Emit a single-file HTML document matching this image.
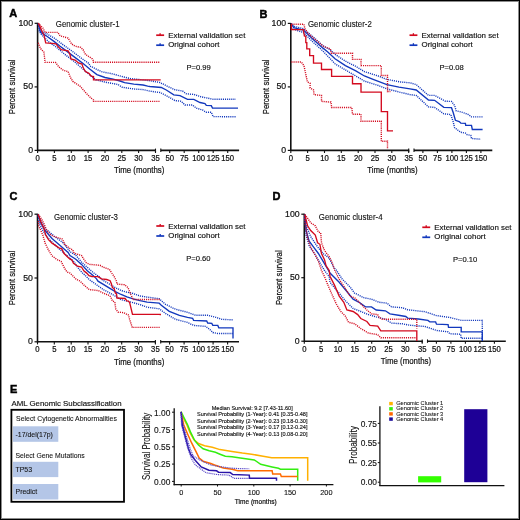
<!DOCTYPE html>
<html><head><meta charset="utf-8"><style>
html,body{margin:0;padding:0;background:#fff;font-family:"Liberation Sans",sans-serif;}
body{width:520px;height:520px;overflow:hidden;position:relative;}
svg{display:block;position:absolute;left:0;top:0;will-change:transform;}
.frame{position:absolute;left:0;top:0;width:520px;height:520px;box-sizing:border-box;border-style:solid;border-color:#000;border-width:1px;box-shadow:inset 0 0 0 1px #8c8c8c;}
</style></head><body>
<svg width="520" height="520" viewBox="0 0 520 520" style="font-family:&quot;Liberation Sans&quot;,sans-serif">
<rect x="0" y="0" width="520" height="520" fill="#fff"/>
<text x="9.3" y="16.9" font-size="11" text-anchor="start" font-weight="bold" fill="#000" stroke="#000" stroke-width="0.45">A</text>
<line x1="37.6" y1="22.8" x2="37.6" y2="151.1" stroke="#111" stroke-width="1.6"/>
<line x1="34.6" y1="23.3" x2="37.6" y2="23.3" stroke="#111" stroke-width="1.2"/>
<text transform="translate(33.0,25.8) scale(0.95,1)" font-size="9.2" text-anchor="end" font-weight="normal" fill="#111" stroke="#111" stroke-width="0.22">100</text>
<line x1="34.6" y1="86.9" x2="37.6" y2="86.9" stroke="#111" stroke-width="1.2"/>
<text transform="translate(33.0,89.4) scale(0.95,1)" font-size="9.2" text-anchor="end" font-weight="normal" fill="#111" stroke="#111" stroke-width="0.22">50</text>
<line x1="34.6" y1="150.4" x2="37.6" y2="150.4" stroke="#111" stroke-width="1.2"/>
<text transform="translate(33.0,152.9) scale(0.95,1)" font-size="9.2" text-anchor="end" font-weight="normal" fill="#111" stroke="#111" stroke-width="0.22">0</text>
<line x1="37.6" y1="150.4" x2="156.0" y2="150.4" stroke="#111" stroke-width="1.6"/>
<line x1="155.5" y1="148.6" x2="155.5" y2="152.0" stroke="#111" stroke-width="1.1"/>
<line x1="37.6" y1="150.4" x2="37.6" y2="153.0" stroke="#111" stroke-width="1.1"/>
<text transform="translate(37.6,160.9) scale(0.94,1)" font-size="8.2" text-anchor="middle" font-weight="normal" fill="#111" stroke="#111" stroke-width="0.22">0</text>
<line x1="54.4" y1="150.4" x2="54.4" y2="153.0" stroke="#111" stroke-width="1.1"/>
<text transform="translate(54.4,160.9) scale(0.94,1)" font-size="8.2" text-anchor="middle" font-weight="normal" fill="#111" stroke="#111" stroke-width="0.22">5</text>
<line x1="71.3" y1="150.4" x2="71.3" y2="153.0" stroke="#111" stroke-width="1.1"/>
<text transform="translate(71.3,160.9) scale(0.94,1)" font-size="8.2" text-anchor="middle" font-weight="normal" fill="#111" stroke="#111" stroke-width="0.22">10</text>
<line x1="88.1" y1="150.4" x2="88.1" y2="153.0" stroke="#111" stroke-width="1.1"/>
<text transform="translate(88.1,160.9) scale(0.94,1)" font-size="8.2" text-anchor="middle" font-weight="normal" fill="#111" stroke="#111" stroke-width="0.22">15</text>
<line x1="105.0" y1="150.4" x2="105.0" y2="153.0" stroke="#111" stroke-width="1.1"/>
<text transform="translate(105.0,160.9) scale(0.94,1)" font-size="8.2" text-anchor="middle" font-weight="normal" fill="#111" stroke="#111" stroke-width="0.22">20</text>
<line x1="121.8" y1="150.4" x2="121.8" y2="153.0" stroke="#111" stroke-width="1.1"/>
<text transform="translate(121.8,160.9) scale(0.94,1)" font-size="8.2" text-anchor="middle" font-weight="normal" fill="#111" stroke="#111" stroke-width="0.22">25</text>
<line x1="138.6" y1="150.4" x2="138.6" y2="153.0" stroke="#111" stroke-width="1.1"/>
<text transform="translate(138.6,160.9) scale(0.94,1)" font-size="8.2" text-anchor="middle" font-weight="normal" fill="#111" stroke="#111" stroke-width="0.22">30</text>
<line x1="155.5" y1="150.4" x2="155.5" y2="153.0" stroke="#111" stroke-width="1.1"/>
<text transform="translate(155.5,160.9) scale(0.94,1)" font-size="8.2" text-anchor="middle" font-weight="normal" fill="#111" stroke="#111" stroke-width="0.22">35</text>
<line x1="160.8" y1="148.6" x2="160.8" y2="152.0" stroke="#111" stroke-width="1.1"/>
<line x1="160.8" y1="150.4" x2="239.1" y2="150.4" stroke="#111" stroke-width="1.6"/>
<line x1="169.7" y1="150.4" x2="169.7" y2="153.0" stroke="#111" stroke-width="1.1"/>
<text transform="translate(169.7,160.9) scale(0.94,1)" font-size="8.2" text-anchor="middle" font-weight="normal" fill="#111" stroke="#111" stroke-width="0.22">50</text>
<line x1="184.2" y1="150.4" x2="184.2" y2="153.0" stroke="#111" stroke-width="1.1"/>
<text transform="translate(184.2,160.9) scale(0.94,1)" font-size="8.2" text-anchor="middle" font-weight="normal" fill="#111" stroke="#111" stroke-width="0.22">75</text>
<line x1="198.7" y1="150.4" x2="198.7" y2="153.0" stroke="#111" stroke-width="1.1"/>
<text transform="translate(198.7,160.9) scale(0.94,1)" font-size="8.2" text-anchor="middle" font-weight="normal" fill="#111" stroke="#111" stroke-width="0.22">100</text>
<line x1="213.2" y1="150.4" x2="213.2" y2="153.0" stroke="#111" stroke-width="1.1"/>
<text transform="translate(213.2,160.9) scale(0.94,1)" font-size="8.2" text-anchor="middle" font-weight="normal" fill="#111" stroke="#111" stroke-width="0.22">125</text>
<line x1="227.7" y1="150.4" x2="227.7" y2="153.0" stroke="#111" stroke-width="1.1"/>
<text transform="translate(227.7,160.9) scale(0.94,1)" font-size="8.2" text-anchor="middle" font-weight="normal" fill="#111" stroke="#111" stroke-width="0.22">150</text>
<text transform="translate(114.0,173.4) scale(0.82,1)" font-size="9.6" text-anchor="start" font-weight="normal" fill="#111" stroke="#111" stroke-width="0.22">Time (months)</text>
<text transform="translate(15.4,86.9) rotate(-90) scale(0.8,1)" font-size="9.6" text-anchor="middle" fill="#111" stroke="#111" stroke-width="0.22">Percent survival</text>
<text transform="translate(55.8,27.4) scale(0.915,1)" font-size="8.6" text-anchor="start" font-weight="normal" fill="#111" stroke="#111" stroke-width="0.12">Genomic cluster-1</text>
<line x1="156.2" y1="35.2" x2="164.1" y2="35.2" stroke="#d30a1e" stroke-width="1.7"/>
<line x1="160.1" y1="33.2" x2="160.1" y2="35.2" stroke="#d30a1e" stroke-width="1.3"/>
<text x="168.2" y="37.9" font-size="7.9" text-anchor="start" font-weight="normal" fill="#111" stroke="#111" stroke-width="0.15">External validation set</text>
<line x1="156.2" y1="45.2" x2="164.1" y2="45.2" stroke="#1238bd" stroke-width="1.7"/>
<line x1="160.1" y1="43.2" x2="160.1" y2="45.2" stroke="#1238bd" stroke-width="1.3"/>
<text x="168.2" y="47.2" font-size="7.9" text-anchor="start" font-weight="normal" fill="#111" stroke="#111" stroke-width="0.15">Original cohort</text>
<text x="186.5" y="70.4" font-size="7.6" text-anchor="start" font-weight="normal" fill="#111" stroke="#111" stroke-width="0.15">P=0.99</text>
<polyline points="38.5,23.6 40.5,32.4 46.2,35.8 54.3,41.6 60.1,46.2 67.0,51.4 73.9,56.6 83.1,63.5 90.0,69.3 96.9,74.6 105.0,77.5 113.1,79.2 120.0,81.0 124.6,82.7 133.8,84.1 143.1,85.0 147.7,86.1 150.0,86.5 161.3,87.5 166.3,90.0 173.8,94.8 180.0,95.6 187.5,99.4 193.8,99.4 200.0,102.5 205.0,103.5 206.3,105.3 211.3,105.6 212.5,108.1 238.0,108.1" fill="none" stroke="#1238bd" stroke-width="1.35" stroke-linejoin="miter" stroke-linecap="butt"/>
<polyline points="38.3,23.4 40.5,31.2 46.2,33.5 54.3,38.1 63.5,45.1 71.6,50.8 80.8,57.8 88.9,63.5 90.0,66.0 101.5,71.7 113.1,74.0 123.4,76.9 130.4,78.6 141.9,79.8 150.0,80.8 160.0,82.5 167.5,86.3 175.0,89.8 182.5,91.0 186.3,93.8 193.8,94.4 201.3,96.9 207.5,98.1 213.1,99.3 235.8,99.3" fill="none" stroke="#1238bd" stroke-width="1.4" stroke-dasharray="1.1 1.0" stroke-linejoin="miter" stroke-linecap="butt"/>
<polyline points="38.3,24.0 39.3,31.2 41.6,34.7 48.5,41.6 56.6,47.4 64.7,54.3 73.9,61.2 83.1,69.3 90.0,75.1 95.8,79.8 105.0,82.1 117.7,84.4 122.3,87.3 133.8,89.0 143.1,89.6 150.0,91.2 160.0,92.5 167.5,96.3 175.0,100.6 181.3,101.3 185.0,105.0 192.5,105.0 196.3,108.1 202.5,110.0 206.3,112.3 211.3,112.3 213.1,116.6 235.8,116.8" fill="none" stroke="#1238bd" stroke-width="1.4" stroke-dasharray="1.1 1.0" stroke-linejoin="miter" stroke-linecap="butt"/>
<polyline points="38.6,23.6 41.0,28.9 42.8,33.0 43.9,34.7 45.7,42.8 52.0,43.3 56.0,43.9 58.3,46.8 61.2,49.7 68.1,50.8 69.9,54.3 71.0,58.9 75.1,60.1 78.5,62.9 82.0,64.1 83.1,67.6 85.4,71.6 88.9,73.3 91.2,76.2 93.5,76.5 93.5,79.8 160.7,79.8" fill="none" stroke="#d30a1e" stroke-width="1.35" stroke-linejoin="miter" stroke-linecap="butt"/>
<polyline points="38.2,23.2 42.8,27.8 45.1,32.4 57.8,32.4 60.1,35.8 68.1,38.1 71.6,43.9 75.1,46.2 80.8,47.4 83.1,49.7 85.4,54.3 88.9,56.6 92.4,58.9 93.5,61.0 93.5,62.2 160.0,62.2" fill="none" stroke="#d30a1e" stroke-width="1.4" stroke-dasharray="1.1 1.0" stroke-linejoin="miter" stroke-linecap="butt"/>
<polyline points="38.2,42.8 40.5,48.5 43.9,52.0 45.1,62.4 55.5,62.4 58.9,67.0 63.5,70.4 68.1,71.6 70.4,77.4 72.8,81.4 80.2,86.3 86.0,93.0 91.0,98.0 93.5,100.0 93.5,101.4 160.0,101.4" fill="none" stroke="#d30a1e" stroke-width="1.4" stroke-dasharray="1.1 1.0" stroke-linejoin="miter" stroke-linecap="butt"/>
<text x="259.4" y="17.9" font-size="11" text-anchor="start" font-weight="bold" fill="#000" stroke="#000" stroke-width="0.45">B</text>
<line x1="290.8" y1="22.9" x2="290.8" y2="151.1" stroke="#111" stroke-width="1.6"/>
<line x1="287.8" y1="23.4" x2="290.8" y2="23.4" stroke="#111" stroke-width="1.2"/>
<text transform="translate(286.2,25.9) scale(0.95,1)" font-size="9.2" text-anchor="end" font-weight="normal" fill="#111" stroke="#111" stroke-width="0.22">100</text>
<line x1="287.8" y1="86.9" x2="290.8" y2="86.9" stroke="#111" stroke-width="1.2"/>
<text transform="translate(286.2,89.4) scale(0.95,1)" font-size="9.2" text-anchor="end" font-weight="normal" fill="#111" stroke="#111" stroke-width="0.22">50</text>
<line x1="287.8" y1="150.4" x2="290.8" y2="150.4" stroke="#111" stroke-width="1.2"/>
<text transform="translate(286.2,152.9) scale(0.95,1)" font-size="9.2" text-anchor="end" font-weight="normal" fill="#111" stroke="#111" stroke-width="0.22">0</text>
<line x1="290.8" y1="150.4" x2="409.2" y2="150.4" stroke="#111" stroke-width="1.6"/>
<line x1="408.7" y1="148.6" x2="408.7" y2="152.0" stroke="#111" stroke-width="1.1"/>
<line x1="290.8" y1="150.4" x2="290.8" y2="153.0" stroke="#111" stroke-width="1.1"/>
<text transform="translate(290.8,160.9) scale(0.94,1)" font-size="8.2" text-anchor="middle" font-weight="normal" fill="#111" stroke="#111" stroke-width="0.22">0</text>
<line x1="307.6" y1="150.4" x2="307.6" y2="153.0" stroke="#111" stroke-width="1.1"/>
<text transform="translate(307.6,160.9) scale(0.94,1)" font-size="8.2" text-anchor="middle" font-weight="normal" fill="#111" stroke="#111" stroke-width="0.22">5</text>
<line x1="324.5" y1="150.4" x2="324.5" y2="153.0" stroke="#111" stroke-width="1.1"/>
<text transform="translate(324.5,160.9) scale(0.94,1)" font-size="8.2" text-anchor="middle" font-weight="normal" fill="#111" stroke="#111" stroke-width="0.22">10</text>
<line x1="341.3" y1="150.4" x2="341.3" y2="153.0" stroke="#111" stroke-width="1.1"/>
<text transform="translate(341.3,160.9) scale(0.94,1)" font-size="8.2" text-anchor="middle" font-weight="normal" fill="#111" stroke="#111" stroke-width="0.22">15</text>
<line x1="358.2" y1="150.4" x2="358.2" y2="153.0" stroke="#111" stroke-width="1.1"/>
<text transform="translate(358.2,160.9) scale(0.94,1)" font-size="8.2" text-anchor="middle" font-weight="normal" fill="#111" stroke="#111" stroke-width="0.22">20</text>
<line x1="375.0" y1="150.4" x2="375.0" y2="153.0" stroke="#111" stroke-width="1.1"/>
<text transform="translate(375.0,160.9) scale(0.94,1)" font-size="8.2" text-anchor="middle" font-weight="normal" fill="#111" stroke="#111" stroke-width="0.22">25</text>
<line x1="391.8" y1="150.4" x2="391.8" y2="153.0" stroke="#111" stroke-width="1.1"/>
<text transform="translate(391.8,160.9) scale(0.94,1)" font-size="8.2" text-anchor="middle" font-weight="normal" fill="#111" stroke="#111" stroke-width="0.22">30</text>
<line x1="408.7" y1="150.4" x2="408.7" y2="153.0" stroke="#111" stroke-width="1.1"/>
<text transform="translate(408.7,160.9) scale(0.94,1)" font-size="8.2" text-anchor="middle" font-weight="normal" fill="#111" stroke="#111" stroke-width="0.22">35</text>
<line x1="414.0" y1="148.6" x2="414.0" y2="152.0" stroke="#111" stroke-width="1.1"/>
<line x1="414.0" y1="150.4" x2="492.3" y2="150.4" stroke="#111" stroke-width="1.6"/>
<line x1="422.9" y1="150.4" x2="422.9" y2="153.0" stroke="#111" stroke-width="1.1"/>
<text transform="translate(422.9,160.9) scale(0.94,1)" font-size="8.2" text-anchor="middle" font-weight="normal" fill="#111" stroke="#111" stroke-width="0.22">50</text>
<line x1="437.4" y1="150.4" x2="437.4" y2="153.0" stroke="#111" stroke-width="1.1"/>
<text transform="translate(437.4,160.9) scale(0.94,1)" font-size="8.2" text-anchor="middle" font-weight="normal" fill="#111" stroke="#111" stroke-width="0.22">75</text>
<line x1="451.9" y1="150.4" x2="451.9" y2="153.0" stroke="#111" stroke-width="1.1"/>
<text transform="translate(451.9,160.9) scale(0.94,1)" font-size="8.2" text-anchor="middle" font-weight="normal" fill="#111" stroke="#111" stroke-width="0.22">100</text>
<line x1="466.4" y1="150.4" x2="466.4" y2="153.0" stroke="#111" stroke-width="1.1"/>
<text transform="translate(466.4,160.9) scale(0.94,1)" font-size="8.2" text-anchor="middle" font-weight="normal" fill="#111" stroke="#111" stroke-width="0.22">125</text>
<line x1="480.9" y1="150.4" x2="480.9" y2="153.0" stroke="#111" stroke-width="1.1"/>
<text transform="translate(480.9,160.9) scale(0.94,1)" font-size="8.2" text-anchor="middle" font-weight="normal" fill="#111" stroke="#111" stroke-width="0.22">150</text>
<text transform="translate(367.2,173.4) scale(0.82,1)" font-size="9.6" text-anchor="start" font-weight="normal" fill="#111" stroke="#111" stroke-width="0.22">Time (months)</text>
<text transform="translate(268.6,86.9) rotate(-90) scale(0.8,1)" font-size="9.6" text-anchor="middle" fill="#111" stroke="#111" stroke-width="0.22">Percent survival</text>
<text transform="translate(308.0,26.9) scale(0.915,1)" font-size="8.6" text-anchor="start" font-weight="normal" fill="#111" stroke="#111" stroke-width="0.12">Genomic cluster-2</text>
<line x1="409.5" y1="35.2" x2="417.4" y2="35.2" stroke="#d30a1e" stroke-width="1.7"/>
<line x1="413.4" y1="33.2" x2="413.4" y2="35.2" stroke="#d30a1e" stroke-width="1.3"/>
<text x="421.5" y="37.9" font-size="7.9" text-anchor="start" font-weight="normal" fill="#111" stroke="#111" stroke-width="0.15">External validation set</text>
<line x1="409.5" y1="45.2" x2="417.4" y2="45.2" stroke="#1238bd" stroke-width="1.7"/>
<line x1="413.4" y1="43.2" x2="413.4" y2="45.2" stroke="#1238bd" stroke-width="1.3"/>
<text x="421.5" y="47.2" font-size="7.9" text-anchor="start" font-weight="normal" fill="#111" stroke="#111" stroke-width="0.15">Original cohort</text>
<text x="439.5" y="70.4" font-size="7.6" text-anchor="start" font-weight="normal" fill="#111" stroke="#111" stroke-width="0.15">P=0.08</text>
<polyline points="291.2,23.6 293.8,27.7 303.4,30.1 313.0,39.2 322.7,47.9 327.5,51.7 335.0,58.7 345.4,65.6 355.8,70.8 364.4,76.0 373.1,79.4 386.9,84.6 399.0,87.2 410.0,88.9 416.2,90.0 428.5,100.0 434.6,100.3 443.8,107.4 451.5,107.7 453.1,112.3 455.4,120.3 459.2,121.5 460.8,123.1 465.4,123.4 465.7,125.4 471.5,125.4 472.3,129.5 482.6,129.5" fill="none" stroke="#1238bd" stroke-width="1.35" stroke-linejoin="miter" stroke-linecap="butt"/>
<polyline points="291.2,23.4 293.8,26.3 303.4,28.7 313.0,36.8 322.7,45.5 330.3,49.8 335.0,54.3 345.4,61.2 355.8,66.4 364.4,71.6 378.3,76.0 386.9,79.4 400.7,82.0 410.0,82.8 416.2,84.6 428.5,95.4 434.6,95.4 445.4,101.2 451.5,101.5 454.6,105.4 456.2,110.8 462.3,112.3 468.5,114.6 471.5,116.9 482.6,116.9" fill="none" stroke="#1238bd" stroke-width="1.4" stroke-dasharray="1.1 1.0" stroke-linejoin="miter" stroke-linecap="butt"/>
<polyline points="291.2,26.0 291.9,28.7 303.4,32.5 313.0,42.1 322.7,50.8 335.0,63.8 345.4,69.9 355.8,76.0 364.4,81.1 378.3,85.5 386.9,88.9 400.7,92.4 410.0,94.6 416.2,95.4 428.5,106.9 434.6,107.4 443.8,113.8 450.8,114.6 453.1,121.5 454.6,127.7 460.8,132.3 465.4,133.1 466.9,134.6 470.8,135.4 471.5,138.5 480.8,139.2" fill="none" stroke="#1238bd" stroke-width="1.4" stroke-dasharray="1.1 1.0" stroke-linejoin="miter" stroke-linecap="butt"/>
<polyline points="291.4,23.8 291.4,29.6 303.4,29.6 304.4,35.9 305.8,36.3 305.8,42.6 306.8,42.6 306.8,48.8 309.7,48.8 309.7,55.6 313.5,55.6 313.5,63.1 321.5,63.1 321.5,69.5 331.6,69.5 331.6,76.3 352.5,76.3 352.5,83.7 361.0,83.7 361.0,92.1 381.3,92.1 381.3,111.6 387.5,111.6 387.5,130.8 393.0,130.8" fill="none" stroke="#d30a1e" stroke-width="1.35" stroke-linejoin="miter" stroke-linecap="butt"/>
<polyline points="291.4,24.2 303.9,24.3 304.9,28.7 308.2,33.5 313.0,37.8 317.8,41.6 322.7,46.0 327.5,47.9 330.3,48.8 331.3,53.2 352.5,53.2 352.5,59.4 361.0,59.4 361.0,65.6 381.3,65.6 381.3,75.5 387.5,75.5 387.5,91.5 390.4,91.5" fill="none" stroke="#d30a1e" stroke-width="1.4" stroke-dasharray="1.1 1.0" stroke-linejoin="miter" stroke-linecap="butt"/>
<polyline points="291.4,62.0 301.3,62.0 304.0,65.8 307.4,81.9 310.1,83.3 310.1,88.0 313.5,90.0 314.1,94.7 321.5,95.4 321.5,101.4 331.0,102.1 331.6,107.5 351.8,107.5 352.5,114.2 361.0,114.2 361.0,121.3 381.3,121.3 381.3,141.3 387.5,141.3 387.5,149.0" fill="none" stroke="#d30a1e" stroke-width="1.4" stroke-dasharray="1.1 1.0" stroke-linejoin="miter" stroke-linecap="butt"/>
<text x="9.6" y="200.3" font-size="11" text-anchor="start" font-weight="bold" fill="#000" stroke="#000" stroke-width="0.45">C</text>
<line x1="37.5" y1="213.7" x2="37.5" y2="342.5" stroke="#111" stroke-width="1.6"/>
<line x1="34.5" y1="214.2" x2="37.5" y2="214.2" stroke="#111" stroke-width="1.2"/>
<text transform="translate(32.9,216.7) scale(0.95,1)" font-size="9.2" text-anchor="end" font-weight="normal" fill="#111" stroke="#111" stroke-width="0.22">100</text>
<line x1="34.5" y1="278.0" x2="37.5" y2="278.0" stroke="#111" stroke-width="1.2"/>
<text transform="translate(32.9,280.5) scale(0.95,1)" font-size="9.2" text-anchor="end" font-weight="normal" fill="#111" stroke="#111" stroke-width="0.22">50</text>
<line x1="34.5" y1="341.8" x2="37.5" y2="341.8" stroke="#111" stroke-width="1.2"/>
<text transform="translate(32.9,344.3) scale(0.95,1)" font-size="9.2" text-anchor="end" font-weight="normal" fill="#111" stroke="#111" stroke-width="0.22">0</text>
<line x1="37.5" y1="341.8" x2="155.9" y2="341.8" stroke="#111" stroke-width="1.6"/>
<line x1="155.4" y1="340.0" x2="155.4" y2="343.40000000000003" stroke="#111" stroke-width="1.1"/>
<line x1="37.5" y1="341.8" x2="37.5" y2="344.40000000000003" stroke="#111" stroke-width="1.1"/>
<text transform="translate(37.5,352.3) scale(0.94,1)" font-size="8.2" text-anchor="middle" font-weight="normal" fill="#111" stroke="#111" stroke-width="0.22">0</text>
<line x1="54.3" y1="341.8" x2="54.3" y2="344.40000000000003" stroke="#111" stroke-width="1.1"/>
<text transform="translate(54.3,352.3) scale(0.94,1)" font-size="8.2" text-anchor="middle" font-weight="normal" fill="#111" stroke="#111" stroke-width="0.22">5</text>
<line x1="71.2" y1="341.8" x2="71.2" y2="344.40000000000003" stroke="#111" stroke-width="1.1"/>
<text transform="translate(71.2,352.3) scale(0.94,1)" font-size="8.2" text-anchor="middle" font-weight="normal" fill="#111" stroke="#111" stroke-width="0.22">10</text>
<line x1="88.0" y1="341.8" x2="88.0" y2="344.40000000000003" stroke="#111" stroke-width="1.1"/>
<text transform="translate(88.0,352.3) scale(0.94,1)" font-size="8.2" text-anchor="middle" font-weight="normal" fill="#111" stroke="#111" stroke-width="0.22">15</text>
<line x1="104.9" y1="341.8" x2="104.9" y2="344.40000000000003" stroke="#111" stroke-width="1.1"/>
<text transform="translate(104.9,352.3) scale(0.94,1)" font-size="8.2" text-anchor="middle" font-weight="normal" fill="#111" stroke="#111" stroke-width="0.22">20</text>
<line x1="121.7" y1="341.8" x2="121.7" y2="344.40000000000003" stroke="#111" stroke-width="1.1"/>
<text transform="translate(121.7,352.3) scale(0.94,1)" font-size="8.2" text-anchor="middle" font-weight="normal" fill="#111" stroke="#111" stroke-width="0.22">25</text>
<line x1="138.5" y1="341.8" x2="138.5" y2="344.40000000000003" stroke="#111" stroke-width="1.1"/>
<text transform="translate(138.5,352.3) scale(0.94,1)" font-size="8.2" text-anchor="middle" font-weight="normal" fill="#111" stroke="#111" stroke-width="0.22">30</text>
<line x1="155.4" y1="341.8" x2="155.4" y2="344.40000000000003" stroke="#111" stroke-width="1.1"/>
<text transform="translate(155.4,352.3) scale(0.94,1)" font-size="8.2" text-anchor="middle" font-weight="normal" fill="#111" stroke="#111" stroke-width="0.22">35</text>
<line x1="160.7" y1="340.0" x2="160.7" y2="343.40000000000003" stroke="#111" stroke-width="1.1"/>
<line x1="160.7" y1="341.8" x2="239.0" y2="341.8" stroke="#111" stroke-width="1.6"/>
<line x1="169.6" y1="341.8" x2="169.6" y2="344.40000000000003" stroke="#111" stroke-width="1.1"/>
<text transform="translate(169.6,352.3) scale(0.94,1)" font-size="8.2" text-anchor="middle" font-weight="normal" fill="#111" stroke="#111" stroke-width="0.22">50</text>
<line x1="184.1" y1="341.8" x2="184.1" y2="344.40000000000003" stroke="#111" stroke-width="1.1"/>
<text transform="translate(184.1,352.3) scale(0.94,1)" font-size="8.2" text-anchor="middle" font-weight="normal" fill="#111" stroke="#111" stroke-width="0.22">75</text>
<line x1="198.6" y1="341.8" x2="198.6" y2="344.40000000000003" stroke="#111" stroke-width="1.1"/>
<text transform="translate(198.6,352.3) scale(0.94,1)" font-size="8.2" text-anchor="middle" font-weight="normal" fill="#111" stroke="#111" stroke-width="0.22">100</text>
<line x1="213.1" y1="341.8" x2="213.1" y2="344.40000000000003" stroke="#111" stroke-width="1.1"/>
<text transform="translate(213.1,352.3) scale(0.94,1)" font-size="8.2" text-anchor="middle" font-weight="normal" fill="#111" stroke="#111" stroke-width="0.22">125</text>
<line x1="227.6" y1="341.8" x2="227.6" y2="344.40000000000003" stroke="#111" stroke-width="1.1"/>
<text transform="translate(227.6,352.3) scale(0.94,1)" font-size="8.2" text-anchor="middle" font-weight="normal" fill="#111" stroke="#111" stroke-width="0.22">150</text>
<text transform="translate(113.9,364.8) scale(0.82,1)" font-size="9.6" text-anchor="start" font-weight="normal" fill="#111" stroke="#111" stroke-width="0.22">Time (months)</text>
<text transform="translate(15.3,278.0) rotate(-90) scale(0.8,1)" font-size="9.6" text-anchor="middle" fill="#111" stroke="#111" stroke-width="0.22">Percent survival</text>
<text transform="translate(54.1,219.5) scale(0.915,1)" font-size="8.6" text-anchor="start" font-weight="normal" fill="#111" stroke="#111" stroke-width="0.12">Genomic cluster-3</text>
<line x1="156.3" y1="226" x2="164.20000000000002" y2="226" stroke="#d30a1e" stroke-width="1.7"/>
<line x1="160.20000000000002" y1="224.0" x2="160.20000000000002" y2="226" stroke="#d30a1e" stroke-width="1.3"/>
<text x="168.3" y="228.7" font-size="7.9" text-anchor="start" font-weight="normal" fill="#111" stroke="#111" stroke-width="0.15">External validation set</text>
<line x1="156.3" y1="236" x2="164.20000000000002" y2="236" stroke="#1238bd" stroke-width="1.7"/>
<line x1="160.20000000000002" y1="234.0" x2="160.20000000000002" y2="236" stroke="#1238bd" stroke-width="1.3"/>
<text x="168.3" y="238.0" font-size="7.9" text-anchor="start" font-weight="normal" fill="#111" stroke="#111" stroke-width="0.15">Original cohort</text>
<text x="186.2" y="261.4" font-size="7.6" text-anchor="start" font-weight="normal" fill="#111" stroke="#111" stroke-width="0.15">P=0.60</text>
<polyline points="38.2,214.5 40.5,222.4 45.1,230.5 52.0,238.5 60.1,245.4 68.1,252.4 70.0,255.5 75.8,259.2 81.5,264.4 87.3,270.8 93.1,275.4 96.5,278.9 98.0,281.2 103.8,284.7 109.5,288.2 115.3,291.6 121.1,294.5 126.9,296.8 133.1,298.8 140.0,300.6 147.1,302.2 159.2,303.2 161.3,305.2 169.3,311.3 179.4,315.3 187.5,317.3 192.6,318.3 193.6,320.4 206.7,321.0 207.7,323.0 211.8,323.4 212.8,325.4 217.8,325.4 218.8,327.8 233.0,327.8 233.0,338.5" fill="none" stroke="#1238bd" stroke-width="1.35" stroke-linejoin="miter" stroke-linecap="butt"/>
<polyline points="38.2,214.3 40.5,220.1 46.2,229.3 54.3,236.2 63.5,243.1 70.0,251.7 75.8,255.2 81.5,262.1 87.3,267.3 93.1,272.5 98.9,276.5 102.6,280.1 109.5,284.1 115.3,287.6 121.1,290.5 126.9,292.2 131.9,293.1 140.0,296.0 147.1,297.1 159.2,298.7 165.3,304.2 175.4,309.2 187.5,312.3 195.6,315.3 207.7,315.3 215.8,317.3 221.9,319.3 233.0,319.9" fill="none" stroke="#1238bd" stroke-width="1.4" stroke-dasharray="1.1 1.0" stroke-linejoin="miter" stroke-linecap="butt"/>
<polyline points="38.2,216.0 39.3,223.5 42.8,230.5 48.5,238.5 56.6,246.6 65.8,254.7 73.9,261.6 77.5,267.3 81.5,271.9 86.2,276.5 89.0,279.4 98.0,285.8 103.8,289.9 109.5,292.8 115.3,296.2 121.1,299.7 131.9,302.3 140.0,304.6 147.1,307.2 159.2,308.8 165.3,313.3 175.4,319.3 187.5,322.4 193.6,325.4 205.7,326.4 209.7,329.4 212.8,332.5 217.8,333.5 233.0,333.5" fill="none" stroke="#1238bd" stroke-width="1.4" stroke-dasharray="1.1 1.0" stroke-linejoin="miter" stroke-linecap="butt"/>
<polyline points="38.2,214.6 41.6,223.5 43.9,228.1 45.7,235.1 48.5,239.7 52.0,243.1 55.5,245.4 58.9,247.8 61.8,248.9 64.1,253.5 67.6,257.0 70.0,259.2 71.7,259.8 73.5,263.3 77.5,266.2 81.5,267.0 83.8,270.8 86.7,273.1 89.0,275.7 91.9,276.5 98.0,276.6 101.5,278.9 106.7,279.5 110.1,280.7 111.3,283.5 112.4,287.6 114.2,288.7 115.3,292.8 116.5,293.9 117.0,298.0 125.1,298.5 126.9,300.9 128.4,301.1 129.6,302.3 132.5,314.3 160.3,314.3 160.3,315.3" fill="none" stroke="#d30a1e" stroke-width="1.35" stroke-linejoin="miter" stroke-linecap="butt"/>
<polyline points="38.2,214.5 41.6,218.9 43.9,223.5 46.2,229.3 49.7,233.9 53.1,236.2 62.4,239.1 64.7,244.3 70.4,248.9 72.9,250.0 73.5,252.3 75.8,253.8 81.5,255.5 83.8,259.2 86.2,262.7 89.6,264.4 100.0,265.3 103.1,267.1 109.4,269.4 111.8,273.2 114.2,276.6 116.5,281.2 117.0,284.1 124.5,284.7 128.0,287.6 130.7,294.2 133.1,299.5 160.3,299.5" fill="none" stroke="#d30a1e" stroke-width="1.4" stroke-dasharray="1.1 1.0" stroke-linejoin="miter" stroke-linecap="butt"/>
<polyline points="38.4,221.0 38.7,225.8 42.8,235.1 45.1,243.1 48.5,250.1 52.0,255.8 56.6,259.3 61.2,261.6 64.7,268.5 67.0,272.0 70.0,273.1 73.5,276.5 76.3,279.4 80.0,281.0 84.6,285.6 89.2,289.6 98.0,290.5 103.8,293.4 108.4,295.1 110.7,296.8 112.4,300.9 114.8,302.0 115.8,309.2 118.1,312.1 123.8,312.7 128.4,315.0 129.6,319.2 132.3,327.4 160.3,327.4" fill="none" stroke="#d30a1e" stroke-width="1.4" stroke-dasharray="1.1 1.0" stroke-linejoin="miter" stroke-linecap="butt"/>
<text x="272.5" y="199.7" font-size="11" text-anchor="start" font-weight="bold" fill="#000" stroke="#000" stroke-width="0.45">D</text>
<line x1="304.3" y1="213.7" x2="304.3" y2="341.9" stroke="#111" stroke-width="1.6"/>
<line x1="301.3" y1="214.2" x2="304.3" y2="214.2" stroke="#111" stroke-width="1.2"/>
<text transform="translate(299.7,216.7) scale(0.95,1)" font-size="9.2" text-anchor="end" font-weight="normal" fill="#111" stroke="#111" stroke-width="0.22">100</text>
<line x1="301.3" y1="277.7" x2="304.3" y2="277.7" stroke="#111" stroke-width="1.2"/>
<text transform="translate(299.7,280.2) scale(0.95,1)" font-size="9.2" text-anchor="end" font-weight="normal" fill="#111" stroke="#111" stroke-width="0.22">50</text>
<line x1="301.3" y1="341.2" x2="304.3" y2="341.2" stroke="#111" stroke-width="1.2"/>
<text transform="translate(299.7,343.7) scale(0.95,1)" font-size="9.2" text-anchor="end" font-weight="normal" fill="#111" stroke="#111" stroke-width="0.22">0</text>
<line x1="304.3" y1="341.2" x2="422.7" y2="341.2" stroke="#111" stroke-width="1.6"/>
<line x1="422.2" y1="339.4" x2="422.2" y2="342.8" stroke="#111" stroke-width="1.1"/>
<line x1="304.3" y1="341.2" x2="304.3" y2="343.8" stroke="#111" stroke-width="1.1"/>
<text transform="translate(304.3,351.7) scale(0.94,1)" font-size="8.2" text-anchor="middle" font-weight="normal" fill="#111" stroke="#111" stroke-width="0.22">0</text>
<line x1="321.1" y1="341.2" x2="321.1" y2="343.8" stroke="#111" stroke-width="1.1"/>
<text transform="translate(321.1,351.7) scale(0.94,1)" font-size="8.2" text-anchor="middle" font-weight="normal" fill="#111" stroke="#111" stroke-width="0.22">5</text>
<line x1="338.0" y1="341.2" x2="338.0" y2="343.8" stroke="#111" stroke-width="1.1"/>
<text transform="translate(338.0,351.7) scale(0.94,1)" font-size="8.2" text-anchor="middle" font-weight="normal" fill="#111" stroke="#111" stroke-width="0.22">10</text>
<line x1="354.8" y1="341.2" x2="354.8" y2="343.8" stroke="#111" stroke-width="1.1"/>
<text transform="translate(354.8,351.7) scale(0.94,1)" font-size="8.2" text-anchor="middle" font-weight="normal" fill="#111" stroke="#111" stroke-width="0.22">15</text>
<line x1="371.7" y1="341.2" x2="371.7" y2="343.8" stroke="#111" stroke-width="1.1"/>
<text transform="translate(371.7,351.7) scale(0.94,1)" font-size="8.2" text-anchor="middle" font-weight="normal" fill="#111" stroke="#111" stroke-width="0.22">20</text>
<line x1="388.5" y1="341.2" x2="388.5" y2="343.8" stroke="#111" stroke-width="1.1"/>
<text transform="translate(388.5,351.7) scale(0.94,1)" font-size="8.2" text-anchor="middle" font-weight="normal" fill="#111" stroke="#111" stroke-width="0.22">25</text>
<line x1="405.3" y1="341.2" x2="405.3" y2="343.8" stroke="#111" stroke-width="1.1"/>
<text transform="translate(405.3,351.7) scale(0.94,1)" font-size="8.2" text-anchor="middle" font-weight="normal" fill="#111" stroke="#111" stroke-width="0.22">30</text>
<line x1="422.2" y1="341.2" x2="422.2" y2="343.8" stroke="#111" stroke-width="1.1"/>
<text transform="translate(422.2,351.7) scale(0.94,1)" font-size="8.2" text-anchor="middle" font-weight="normal" fill="#111" stroke="#111" stroke-width="0.22">35</text>
<line x1="427.5" y1="339.4" x2="427.5" y2="342.8" stroke="#111" stroke-width="1.1"/>
<line x1="427.5" y1="341.2" x2="505.8" y2="341.2" stroke="#111" stroke-width="1.6"/>
<line x1="436.4" y1="341.2" x2="436.4" y2="343.8" stroke="#111" stroke-width="1.1"/>
<text transform="translate(436.4,351.7) scale(0.94,1)" font-size="8.2" text-anchor="middle" font-weight="normal" fill="#111" stroke="#111" stroke-width="0.22">50</text>
<line x1="450.9" y1="341.2" x2="450.9" y2="343.8" stroke="#111" stroke-width="1.1"/>
<text transform="translate(450.9,351.7) scale(0.94,1)" font-size="8.2" text-anchor="middle" font-weight="normal" fill="#111" stroke="#111" stroke-width="0.22">75</text>
<line x1="465.4" y1="341.2" x2="465.4" y2="343.8" stroke="#111" stroke-width="1.1"/>
<text transform="translate(465.4,351.7) scale(0.94,1)" font-size="8.2" text-anchor="middle" font-weight="normal" fill="#111" stroke="#111" stroke-width="0.22">100</text>
<line x1="479.9" y1="341.2" x2="479.9" y2="343.8" stroke="#111" stroke-width="1.1"/>
<text transform="translate(479.9,351.7) scale(0.94,1)" font-size="8.2" text-anchor="middle" font-weight="normal" fill="#111" stroke="#111" stroke-width="0.22">125</text>
<line x1="494.4" y1="341.2" x2="494.4" y2="343.8" stroke="#111" stroke-width="1.1"/>
<text transform="translate(494.4,351.7) scale(0.94,1)" font-size="8.2" text-anchor="middle" font-weight="normal" fill="#111" stroke="#111" stroke-width="0.22">150</text>
<text transform="translate(380.7,364.2) scale(0.82,1)" font-size="9.6" text-anchor="start" font-weight="normal" fill="#111" stroke="#111" stroke-width="0.22">Time (months)</text>
<text transform="translate(282.1,277.7) rotate(-90) scale(0.8,1)" font-size="9.6" text-anchor="middle" fill="#111" stroke="#111" stroke-width="0.22">Percent survival</text>
<text transform="translate(318.8,219.8) scale(0.915,1)" font-size="8.6" text-anchor="start" font-weight="normal" fill="#111" stroke="#111" stroke-width="0.12">Genomic cluster-4</text>
<line x1="422.3" y1="227.3" x2="430.2" y2="227.3" stroke="#d30a1e" stroke-width="1.7"/>
<line x1="426.2" y1="225.3" x2="426.2" y2="227.3" stroke="#d30a1e" stroke-width="1.3"/>
<text x="434.3" y="230.0" font-size="7.9" text-anchor="start" font-weight="normal" fill="#111" stroke="#111" stroke-width="0.15">External validation set</text>
<line x1="422.3" y1="237.3" x2="430.2" y2="237.3" stroke="#1238bd" stroke-width="1.7"/>
<line x1="426.2" y1="235.3" x2="426.2" y2="237.3" stroke="#1238bd" stroke-width="1.3"/>
<text x="434.3" y="239.3" font-size="7.9" text-anchor="start" font-weight="normal" fill="#111" stroke="#111" stroke-width="0.15">Original cohort</text>
<text x="453.0" y="261.5" font-size="7.6" text-anchor="start" font-weight="normal" fill="#111" stroke="#111" stroke-width="0.15">P=0.10</text>
<polyline points="304.8,214.6 306.1,230.5 309.2,241.2 313.8,247.4 318.4,253.5 323.0,261.2 327.6,268.9 330.0,273.1 339.2,282.3 346.9,291.5 353.1,299.2 359.2,302.3 365.4,306.9 371.5,306.9 376.2,310.0 385.4,310.8 390.0,313.8 400.0,315.5 405.8,316.5 407.7,318.1 418.3,319.0 427.9,320.4 429.8,321.9 435.6,321.9 436.5,324.2 448.1,324.6 448.5,327.3 461.2,327.3 461.2,331.9 482.3,331.9 482.3,341.0" fill="none" stroke="#1238bd" stroke-width="1.35" stroke-linejoin="miter" stroke-linecap="butt"/>
<polyline points="304.8,214.6 306.1,225.8 310.7,236.6 316.8,245.8 323.0,253.5 329.2,258.2 333.8,267.4 336.2,270.0 342.3,279.2 350.0,286.9 354.6,293.1 363.8,297.7 371.5,299.2 379.2,302.3 386.9,303.1 391.5,306.9 402.3,307.7 407.7,309.8 425.0,311.7 436.5,315.6 450.0,317.5 461.5,320.4 482.3,320.4 482.3,341.0" fill="none" stroke="#1238bd" stroke-width="1.4" stroke-dasharray="1.1 1.0" stroke-linejoin="miter" stroke-linecap="butt"/>
<polyline points="304.8,218.0 306.1,235.1 309.2,245.8 315.3,255.1 319.9,262.8 324.5,270.5 329.2,276.6 330.0,282.3 337.7,291.5 345.4,300.8 353.1,308.5 360.8,311.5 368.5,314.6 376.2,316.9 385.4,319.2 391.5,323.1 402.3,323.8 409.6,325.2 425.0,326.5 436.5,330.4 448.1,331.9 450.0,333.8 460.6,334.2 461.2,338.3 482.3,338.3" fill="none" stroke="#1238bd" stroke-width="1.4" stroke-dasharray="1.1 1.0" stroke-linejoin="miter" stroke-linecap="butt"/>
<polyline points="304.8,214.6 307.6,225.8 310.7,230.5 315.3,235.1 317.6,242.8 319.9,244.3 321.5,253.5 324.5,259.7 326.1,265.8 329.2,270.5 330.0,276.2 334.6,285.4 339.2,296.2 343.8,302.3 346.9,310.0 353.1,311.5 357.7,314.6 360.8,318.5 366.9,321.5 370.0,325.4 377.7,326.2 380.8,330.8 416.8,330.8 416.8,341.0" fill="none" stroke="#d30a1e" stroke-width="1.35" stroke-linejoin="miter" stroke-linecap="butt"/>
<polyline points="304.8,214.6 307.6,218.2 310.7,222.8 315.3,225.8 318.4,232.0 320.7,232.8 321.5,242.8 324.5,250.5 329.2,256.6 332.2,262.8 334.6,270.0 339.2,279.2 345.4,288.5 350.0,296.2 354.6,297.7 360.8,303.8 366.9,310.0 371.5,313.8 377.7,314.6 379.2,317.7 382.3,319.2 416.8,319.2 416.8,328.5" fill="none" stroke="#d30a1e" stroke-width="1.4" stroke-dasharray="1.1 1.0" stroke-linejoin="miter" stroke-linecap="butt"/>
<polyline points="304.9,218.0 305.3,224.3 307.6,238.2 310.7,247.4 315.3,255.1 318.4,261.2 321.5,270.5 324.5,276.6 327.6,284.3 330.0,290.0 336.2,303.8 340.8,311.5 345.4,316.2 348.5,322.3 354.6,323.8 360.8,328.5 368.5,333.1 377.7,334.6 380.8,337.7 416.2,337.7" fill="none" stroke="#d30a1e" stroke-width="1.4" stroke-dasharray="1.1 1.0" stroke-linejoin="miter" stroke-linecap="butt"/>
<text x="9.9" y="393.1" font-size="11" text-anchor="start" font-weight="bold" fill="#000" stroke="#000" stroke-width="0.45">E</text>
<text x="11.5" y="405.8" font-size="7.85" text-anchor="start" font-weight="normal" fill="#111" stroke="#111" stroke-width="0.15">AML Genomic Subclassification</text>
<rect x="11.4" y="409.8" width="112.6" height="92" fill="#fff" stroke="#000" stroke-width="1.8"/>
<text x="16.1" y="420.8" font-size="6.9" text-anchor="start" font-weight="normal" fill="#111" stroke="#111" stroke-width="0.08">Select Cytogenetic Abnormalities</text>
<rect x="13" y="426.3" width="45.3" height="15.5" fill="#b4c6e7"/>
<text x="15.5" y="436.8" font-size="6.95" text-anchor="start" font-weight="normal" fill="#111" stroke="#111" stroke-width="0.08">-17/del(17p)</text>
<text x="15.5" y="457.5" font-size="6.85" text-anchor="start" font-weight="normal" fill="#111" stroke="#111" stroke-width="0.08">Select Gene Mutations</text>
<rect x="13" y="461.8" width="45.3" height="15.3" fill="#b4c6e7"/>
<text x="15.5" y="472.2" font-size="6.95" text-anchor="start" font-weight="normal" fill="#111" stroke="#111" stroke-width="0.08">TP53</text>
<rect x="13" y="484" width="45.3" height="15.5" fill="#b4c6e7"/>
<text x="15.5" y="494.3" font-size="6.95" text-anchor="start" font-weight="normal" fill="#111" stroke="#111" stroke-width="0.08">Predict</text>
<line x1="174.2" y1="408.3" x2="174.2" y2="485.3" stroke="#111" stroke-width="1.3"/>
<line x1="173.6" y1="484.6" x2="333.4" y2="484.6" stroke="#111" stroke-width="1.3"/>
<line x1="172" y1="412.2" x2="174.2" y2="412.2" stroke="#111" stroke-width="1"/>
<text x="170.4" y="415.5" font-size="8.4" text-anchor="end" font-weight="normal" fill="#111" stroke="#111" stroke-width="0.12">1.00</text>
<line x1="172" y1="429.5" x2="174.2" y2="429.5" stroke="#111" stroke-width="1"/>
<text x="170.4" y="432.8" font-size="8.4" text-anchor="end" font-weight="normal" fill="#111" stroke="#111" stroke-width="0.12">0.75</text>
<line x1="172" y1="446.8" x2="174.2" y2="446.8" stroke="#111" stroke-width="1"/>
<text x="170.4" y="450.1" font-size="8.4" text-anchor="end" font-weight="normal" fill="#111" stroke="#111" stroke-width="0.12">0.55</text>
<line x1="172" y1="464.1" x2="174.2" y2="464.1" stroke="#111" stroke-width="1"/>
<text x="170.4" y="467.4" font-size="8.4" text-anchor="end" font-weight="normal" fill="#111" stroke="#111" stroke-width="0.12">0.25</text>
<line x1="172" y1="481.4" x2="174.2" y2="481.4" stroke="#111" stroke-width="1"/>
<text x="170.4" y="484.7" font-size="8.4" text-anchor="end" font-weight="normal" fill="#111" stroke="#111" stroke-width="0.12">0.00</text>
<line x1="181.2" y1="484.6" x2="181.2" y2="486.5" stroke="#111" stroke-width="1"/>
<text x="181.2" y="495.2" font-size="7.3" text-anchor="middle" font-weight="normal" fill="#111" stroke="#111" stroke-width="0.12">0</text>
<line x1="217.5" y1="484.6" x2="217.5" y2="486.5" stroke="#111" stroke-width="1"/>
<text x="217.5" y="495.2" font-size="7.3" text-anchor="middle" font-weight="normal" fill="#111" stroke="#111" stroke-width="0.12">50</text>
<line x1="253.8" y1="484.6" x2="253.8" y2="486.5" stroke="#111" stroke-width="1"/>
<text x="253.8" y="495.2" font-size="7.3" text-anchor="middle" font-weight="normal" fill="#111" stroke="#111" stroke-width="0.12">100</text>
<line x1="290.1" y1="484.6" x2="290.1" y2="486.5" stroke="#111" stroke-width="1"/>
<text x="290.1" y="495.2" font-size="7.3" text-anchor="middle" font-weight="normal" fill="#111" stroke="#111" stroke-width="0.12">150</text>
<line x1="326.4" y1="484.6" x2="326.4" y2="486.5" stroke="#111" stroke-width="1"/>
<text x="326.4" y="495.2" font-size="7.3" text-anchor="middle" font-weight="normal" fill="#111" stroke="#111" stroke-width="0.12">200</text>
<text transform="translate(234.8,503.9) scale(0.82,1)" font-size="8" text-anchor="start" font-weight="normal" fill="#111" stroke="#111" stroke-width="0.22">Time (months)</text>
<text transform="translate(149.6,446.3) rotate(-90) scale(0.7,1)" font-size="11.3" text-anchor="middle" fill="#111" stroke="#111" stroke-width="0.1">Survival Probability</text>
<text x="252.2" y="409.5" font-size="5.55" text-anchor="middle" font-weight="normal" fill="#111" stroke="#111" stroke-width="0.13">Median Survival: 9.2 [7.43-11.60]</text>
<text x="252.2" y="416.1" font-size="5.55" text-anchor="middle" font-weight="normal" fill="#111" stroke="#111" stroke-width="0.13">Survival Probability (1-Year): 0.41 [0.35-0.48]</text>
<text x="252.2" y="422.6" font-size="5.55" text-anchor="middle" font-weight="normal" fill="#111" stroke="#111" stroke-width="0.13">Survival Probability (2-Year): 0.23 [0.18-0.30]</text>
<text x="252.2" y="429.1" font-size="5.55" text-anchor="middle" font-weight="normal" fill="#111" stroke="#111" stroke-width="0.13">Survival Probability (3-Year): 0.17 [0.12-0.24]</text>
<text x="252.2" y="435.7" font-size="5.55" text-anchor="middle" font-weight="normal" fill="#111" stroke="#111" stroke-width="0.13">Survival Probability (4-Year): 0.13 [0.08-0.20]</text>
<polyline points="181.1,411.8 182.6,416.5 185.7,422.6 186.9,425.0 190.0,432.7 193.8,439.6 198.5,443.5 204.6,445.8 212.3,447.3 220.0,449.6 232.0,451.5 242.3,453.1 251.5,454.2 263.1,456.2 271.7,457.7 307.7,457.7 307.7,480.8" fill="none" stroke="#ffb000" stroke-width="1.5" stroke-linejoin="miter" stroke-linecap="butt"/>
<polyline points="181.1,411.8 184.2,418.0 187.7,425.0 190.8,432.7 194.6,440.4 198.5,445.0 203.1,448.8 209.2,450.8 215.4,452.3 220.0,454.2 225.3,456.3 232.0,456.8 240.4,458.0 254.3,459.9 260.7,464.3 272.1,466.9 278.5,468.3 280.4,469.2 297.7,469.2 297.7,480.8" fill="none" stroke="#33ee11" stroke-width="1.5" stroke-linejoin="miter" stroke-linecap="butt"/>
<polyline points="181.1,412.6 182.6,420.3 183.8,425.0 187.7,434.2 191.5,442.7 195.4,450.4 199.2,458.1 203.1,461.2 210.8,463.5 214.6,465.0 223.3,467.9 232.0,469.3 237.8,470.7 272.1,470.7 272.7,474.0 280.4,474.0 281.3,476.5 297.7,476.5" fill="none" stroke="#ff6a00" stroke-width="1.5" stroke-linejoin="miter" stroke-linecap="butt"/>
<polyline points="181.1,411.8 183.1,425.0 186.2,435.8 190.0,448.1 193.1,455.8 199.2,459.6 205.4,462.7 210.8,465.0 215.7,466.0 225.3,467.4 234.0,468.4 249.5,468.8" fill="none" stroke="#5544c8" stroke-width="1.2" stroke-dasharray="1.1 0.8" stroke-linejoin="miter" stroke-linecap="butt"/>
<polyline points="181.1,411.8 182.2,425.0 185.2,436.5 188.3,448.0 190.7,454.5 195.4,460.5 201.2,466.9 208.9,470.3 216.6,470.8 218.5,472.2 230.2,472.6 232.8,474.5 249.3,475.1 249.5,478.3 276.5,478.3 276.5,480.8" fill="none" stroke="#2a14a8" stroke-width="1.5" stroke-linejoin="miter" stroke-linecap="butt"/>
<polyline points="181.1,413.0 181.5,425.0 184.6,436.5 187.7,448.1 191.5,458.8 195.4,465.0 206.0,472.7 217.6,474.6 229.0,475.1 234.0,478.3 249.5,478.3" fill="none" stroke="#5544c8" stroke-width="1.2" stroke-dasharray="1.1 0.8" stroke-linejoin="miter" stroke-linecap="butt"/>
<line x1="379.9" y1="406.2" x2="379.9" y2="486" stroke="#111" stroke-width="1.3"/>
<line x1="379.3" y1="485.6" x2="504.4" y2="485.6" stroke="#111" stroke-width="1.3"/>
<line x1="377.8" y1="423.4" x2="379.9" y2="423.4" stroke="#111" stroke-width="1"/>
<text x="377.0" y="426.6" font-size="8.4" text-anchor="end" font-weight="normal" fill="#111" stroke="#111" stroke-width="0.12">0.75</text>
<line x1="377.8" y1="443.0" x2="379.9" y2="443.0" stroke="#111" stroke-width="1"/>
<text x="377.0" y="446.2" font-size="8.4" text-anchor="end" font-weight="normal" fill="#111" stroke="#111" stroke-width="0.12">0.55</text>
<line x1="377.8" y1="462.6" x2="379.9" y2="462.6" stroke="#111" stroke-width="1"/>
<text x="377.0" y="465.8" font-size="8.4" text-anchor="end" font-weight="normal" fill="#111" stroke="#111" stroke-width="0.12">0.25</text>
<line x1="377.8" y1="482.2" x2="379.9" y2="482.2" stroke="#111" stroke-width="1"/>
<text x="377.0" y="485.4" font-size="8.4" text-anchor="end" font-weight="normal" fill="#111" stroke="#111" stroke-width="0.12">0.00</text>
<text transform="translate(357.0,445.0) rotate(-90) scale(0.72,1)" font-size="11.3" text-anchor="middle" fill="#111" stroke="#111" stroke-width="0.1">Probability</text>
<rect x="418.1" y="476.2" width="23.1" height="6.2" fill="#33ff00"/>
<rect x="464.2" y="409.2" width="23.2" height="73" fill="#1e0096"/>
<rect x="389.2" y="401.9" width="3.6" height="3.4" fill="#ffb300"/>
<text x="396.2" y="405.2" font-size="5.7" text-anchor="start" font-weight="normal" fill="#111" stroke="#111" stroke-width="0.08">Genomic Cluster 1</text>
<rect x="389.2" y="407.1" width="3.6" height="3.4" fill="#33ee11"/>
<text x="396.2" y="410.4" font-size="5.7" text-anchor="start" font-weight="normal" fill="#111" stroke="#111" stroke-width="0.08">Genomic Cluster 2</text>
<rect x="389.2" y="412.2" width="3.6" height="3.4" fill="#ff6600"/>
<text x="396.2" y="415.5" font-size="5.7" text-anchor="start" font-weight="normal" fill="#111" stroke="#111" stroke-width="0.08">Genomic Cluster 3</text>
<rect x="389.2" y="417.4" width="3.6" height="3.4" fill="#1a0a99"/>
<text x="396.2" y="420.7" font-size="5.7" text-anchor="start" font-weight="normal" fill="#111" stroke="#111" stroke-width="0.08">Genomic Cluster 4</text>
</svg>
<div class="frame"></div>
</body></html>
